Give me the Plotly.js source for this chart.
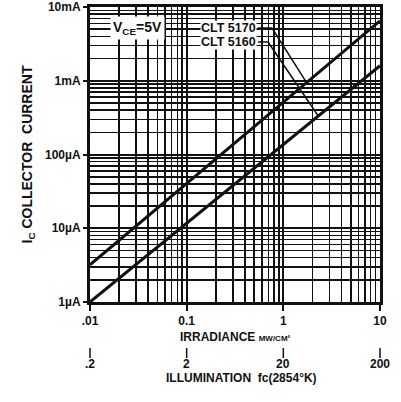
<!DOCTYPE html>
<html>
<head>
<meta charset="utf-8">
<script src="https://cdn.plot.ly/plotly-3.0.1.min.js"></script>
<style>html,body{margin:0;padding:0;background:#fff}#chart{width:401px;height:402px}</style>
</head>
<body>
<div id="chart"></div>
<script>
// Irradiance (mW/cm²) endpoints and collector current (µA)
const irradiance = [0.01, 10];
const clt5170 = [3.2, 6500];
const clt5160 = [1.0, 1600];
const yTickVals = [1, 10, 100, 1000, 10000];
const yTickText = ['1µA', '10µA', '100µA', '1mA', '10mA'];
const xTickVals = [0.01, 0.1, 1, 10];
const xTickText = ['.01', '0.1', '1', '10'];
const illumination = [0.2, 2, 20, 200];
const illumText = ['.2', '2', '20', '200'];

const FONT = 'Liberation Sans, Arial, sans-serif';
const INK = '#111';

function logInterp(xs, ys, x) {
  const lx = xs.map(Math.log10), ly = ys.map(Math.log10);
  const t = (Math.log10(x) - lx[0]) / (lx[1] - lx[0]);
  return Math.pow(10, ly[0] + t * (ly[1] - ly[0]));
}
// paper coordinates helpers (x: 0.01..10, y: 1..10000)
const px = x => (Math.log10(x) + 2) / 3;
const py = y => Math.log10(y) / 4;

const traces = [
  {x: irradiance, y: clt5170, mode: 'lines', line: {color: INK, width: 3}, hoverinfo: 'skip'},
  {x: irradiance, y: clt5160, mode: 'lines', line: {color: INK, width: 3}, hoverinfo: 'skip'}
];

const pt1x = 1.74, pt1y = logInterp(irradiance, clt5170, pt1x);
const pt2x = 2.3, pt2y = logInterp(irradiance, clt5160, pt2x);

const shapes = [
  {type: 'line', xref: 'paper', yref: 'paper', x0: (258-90)/290, y0: (302-28)/295, x1: (272-90)/290, y1: (302-28)/295, line: {color: INK, width: 1.5}},
  {type: 'line', xref: 'paper', yref: 'paper', x0: (272-90)/290, y0: (302-28)/295, x1: px(pt1x), y1: py(pt1y), line: {color: INK, width: 1.5}},
  {type: 'line', xref: 'paper', yref: 'paper', x0: (258-90)/290, y0: (302-42)/295, x1: (268-90)/290, y1: (302-42)/295, line: {color: INK, width: 1.5}},
  {type: 'line', xref: 'paper', yref: 'paper', x0: (268-90)/290, y0: (302-42)/295, x1: px(pt2x), y1: py(pt2y), line: {color: INK, width: 1.5}}
];
illumination.forEach(v => {
  shapes.push({type: 'line', xref: 'paper', yref: 'paper', x0: px(v/20), x1: px(v/20), y0: -46/295, y1: -56/295, line: {color: INK, width: 1.5}});
});

const annotations = [
  {xref: 'paper', yref: 'paper', x: (137-90)/290, y: (302-28)/295, xanchor: 'center', yanchor: 'middle', text: '<b>V<sub>CE</sub>=5V</b>', showarrow: false, bgcolor: '#fff', font: {family: FONT, size: 14, color: INK}, borderpad: 2},
  {xref: 'paper', yref: 'paper', x: (228-90)/290, y: (302-28)/295, xanchor: 'center', yanchor: 'middle', text: '<b>CLT 5170</b>', showarrow: false, bgcolor: '#fff', font: {family: FONT, size: 12.5, color: INK}, borderpad: 0},
  {xref: 'paper', yref: 'paper', x: (228-90)/290, y: (302-42)/295, xanchor: 'center', yanchor: 'middle', text: '<b>CLT 5160</b>', showarrow: false, bgcolor: '#fff', font: {family: FONT, size: 12.5, color: INK}, borderpad: 0},
  {xref: 'paper', yref: 'paper', x: 0.5, y: -35/295, xanchor: 'center', yanchor: 'middle', text: '<b>IRRADIANCE <span style="font-size:8px">MW/CM²</span></b>', showarrow: false, font: {family: FONT, size: 12, color: INK}},
  {xref: 'paper', yref: 'paper', x: (241-90)/290, y: -76/295, xanchor: 'center', yanchor: 'middle', text: '<b>ILLUMINATION  fc(2854°K)</b>', showarrow: false, font: {family: FONT, size: 12, color: INK}}
];
illumination.forEach((v, i) => {
  annotations.push({xref: 'paper', yref: 'paper', x: px(v/20), y: -62/295, xanchor: 'center', yanchor: 'middle', text: '<b>' + illumText[i] + '</b>', showarrow: false, font: {family: FONT, size: 12, color: INK}});
});

const layout = {
  width: 401, height: 402,
  margin: {l: 90, r: 21, t: 7, b: 100},
  paper_bgcolor: '#fff', plot_bgcolor: '#fff',
  showlegend: false,
  xaxis: {
    type: 'log', range: [-2, 1], tickvals: xTickVals, ticktext: xTickText,
    ticks: 'outside', ticklen: 6, tickwidth: 2, tickcolor: INK,
    showgrid: true, gridcolor: INK, gridwidth: 2,
    minor: {showgrid: true, gridcolor: INK, gridwidth: 1.6, dtick: 'D1', ticks: ''},
    showline: true, linecolor: INK, linewidth: 3, mirror: true,
    tickfont: {family: FONT, size: 12, color: INK, weight: 'bold'},
    zeroline: false, fixedrange: true
  },
  yaxis: {
    type: 'log', range: [0, 4], tickvals: yTickVals, ticktext: yTickText,
    ticks: 'outside', ticklen: 4, tickwidth: 2, tickcolor: INK,
    showgrid: true, gridcolor: INK, gridwidth: 2,
    minor: {showgrid: true, gridcolor: INK, gridwidth: 1.6, dtick: 'D1', ticks: ''},
    showline: true, linecolor: INK, linewidth: 3, mirror: true,
    tickfont: {family: FONT, size: 12, color: INK, weight: 'bold'},
    title: {text: '<b>I<sub>C</sub> COLLECTOR  CURRENT</b>', font: {family: FONT, size: 14, color: INK}, standoff: 10},
    zeroline: false, fixedrange: true
  },
  shapes: shapes,
  annotations: annotations
};

Plotly.newPlot('chart', traces, layout, {staticPlot: true, displayModeBar: false});
</script>
</body>
</html>
